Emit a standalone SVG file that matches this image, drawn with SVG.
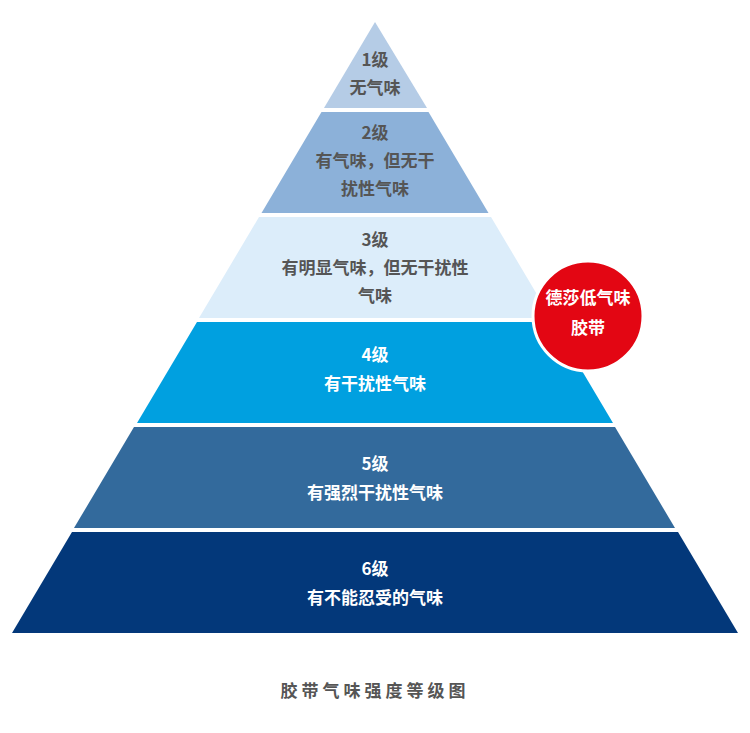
<svg xmlns="http://www.w3.org/2000/svg" width="750" height="733" viewBox="0 0 750 733">
<style>
text{font-family:"Noto Sans CJK SC","Noto Sans",sans-serif;font-weight:bold;text-anchor:middle;font-size:17px}
.d{fill:#555}
.w{fill:#fff}
</style>
<rect width="750" height="733" fill="#fff"/>
<g id="level1"><polygon points="375,22 427,108 324,108" fill="#b5cce6"/><text class="d" x="375" y="66">1级</text><text class="d" x="375" y="94">无气味</text></g>
<g id="level2"><polygon points="321.5,112 428.5,112 488.5,213 261.5,213" fill="#8cb1d9"/><text class="d" x="375" y="139">2级</text><text class="d" x="375" y="167">有气味，但无干</text><text class="d" x="375" y="195">扰性气味</text></g>
<g id="level3"><polygon points="259,217 491,217 551,318 199,318" fill="#dcedfa"/><text class="d" x="375" y="246">3级</text><text class="d" x="375" y="274">有明显气味，但无干扰性</text><text class="d" x="375" y="302">气味</text></g>
<g id="level4"><polygon points="197,322 553,322 613,423 137,423" fill="#00a0e0"/><text class="w" x="375" y="361">4级</text><text class="w" x="375" y="390">有干扰性气味</text></g>
<g id="level5"><polygon points="134,427 615,427 675,528 74,528" fill="#336a9c"/><text class="w" x="375" y="470">5级</text><text class="w" x="375" y="499">有强烈干扰性气味</text></g>
<g id="level6"><polygon points="72,532 678,532 738,633 12,633" fill="#03387a"/><text class="w" x="375" y="575">6级</text><text class="w" x="375" y="604">有不能忍受的气味</text></g>
<g id="badge"><circle cx="588" cy="316" r="55" fill="#e30613" stroke="#fff" stroke-width="3"/><text class="w" x="588" y="304" font-size="16">德莎低气味</text><text class="w" x="588" y="334" font-size="16">胶带</text></g>
<g id="title"><text x="375" y="697" fill="#555" font-size="20" letter-spacing="4">胶带气味强度等级图</text></g>
<g id="connectors"/>
</svg>
